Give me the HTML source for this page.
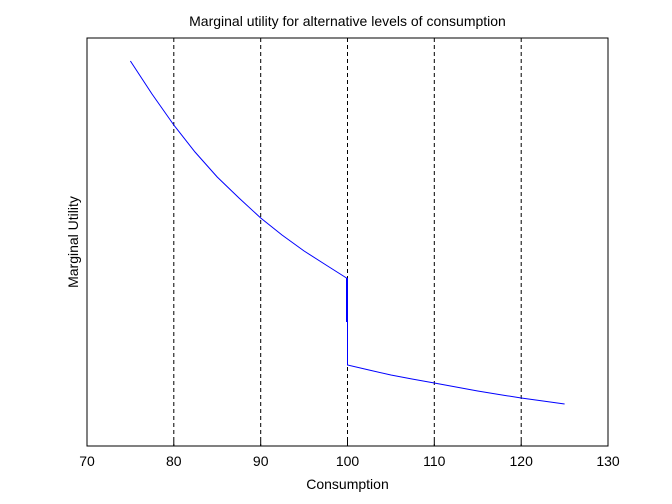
<!DOCTYPE html>
<html><head><style>body{margin:0;background:#fff}svg{display:block}text{font-family:"Liberation Sans",sans-serif;font-size:14px}</style></head><body>
<svg width="672" height="504" xmlns="http://www.w3.org/2000/svg">
<rect width="672" height="504" fill="#fff"/>
<rect x="87" y="38" width="521" height="408" fill="#fff" stroke="#000" stroke-width="1"/>
<g stroke="#000" stroke-dasharray="4,3" stroke-width="1">
<line x1="173.8" y1="38" x2="173.8" y2="446"/>
<line x1="260.7" y1="38" x2="260.7" y2="446"/>
<line x1="347.5" y1="38" x2="347.5" y2="446"/>
<line x1="434.3" y1="38" x2="434.3" y2="446"/>
<line x1="521.2" y1="38" x2="521.2" y2="446"/>
</g>
<g stroke="#000">
<line x1="87" y1="446" x2="87" y2="441"/><line x1="173.8" y1="446" x2="173.8" y2="441"/><line x1="260.7" y1="446" x2="260.7" y2="441"/><line x1="347.5" y1="446" x2="347.5" y2="441"/><line x1="434.3" y1="446" x2="434.3" y2="441"/><line x1="521.2" y1="446" x2="521.2" y2="441"/><line x1="608" y1="446" x2="608" y2="441"/>
</g>
<g fill="none" stroke="#00f" stroke-width="1">
<path d="M130.4,61 L152,94 L173.8,125 L195,152 L217.2,177 L239,198 L260.7,218 L282,235 L304.1,251 L326,265 L346.5,278 L346.5,322 M347.5,278 L347.5,365 L369,370 L390.9,375 L412,379 L434.3,383 L456,387 L477.7,391 L499,394.5 L521.2,398 L543,401 L564.6,404"/>
</g>
<g text-anchor="middle" fill="#000">
<text x="87" y="466">70</text><text x="173.8" y="466">80</text><text x="260.7" y="466">90</text><text x="347.5" y="466">100</text><text x="434.3" y="466">110</text><text x="521.2" y="466">120</text><text x="608" y="466">130</text>
<text x="347.5" y="489">Consumption</text>
<text x="347.5" y="26">Marginal utility for alternative levels of consumption</text>
<text transform="translate(78,242) rotate(-90)">Marginal Utility</text>
</g>
</svg>
</body></html>
